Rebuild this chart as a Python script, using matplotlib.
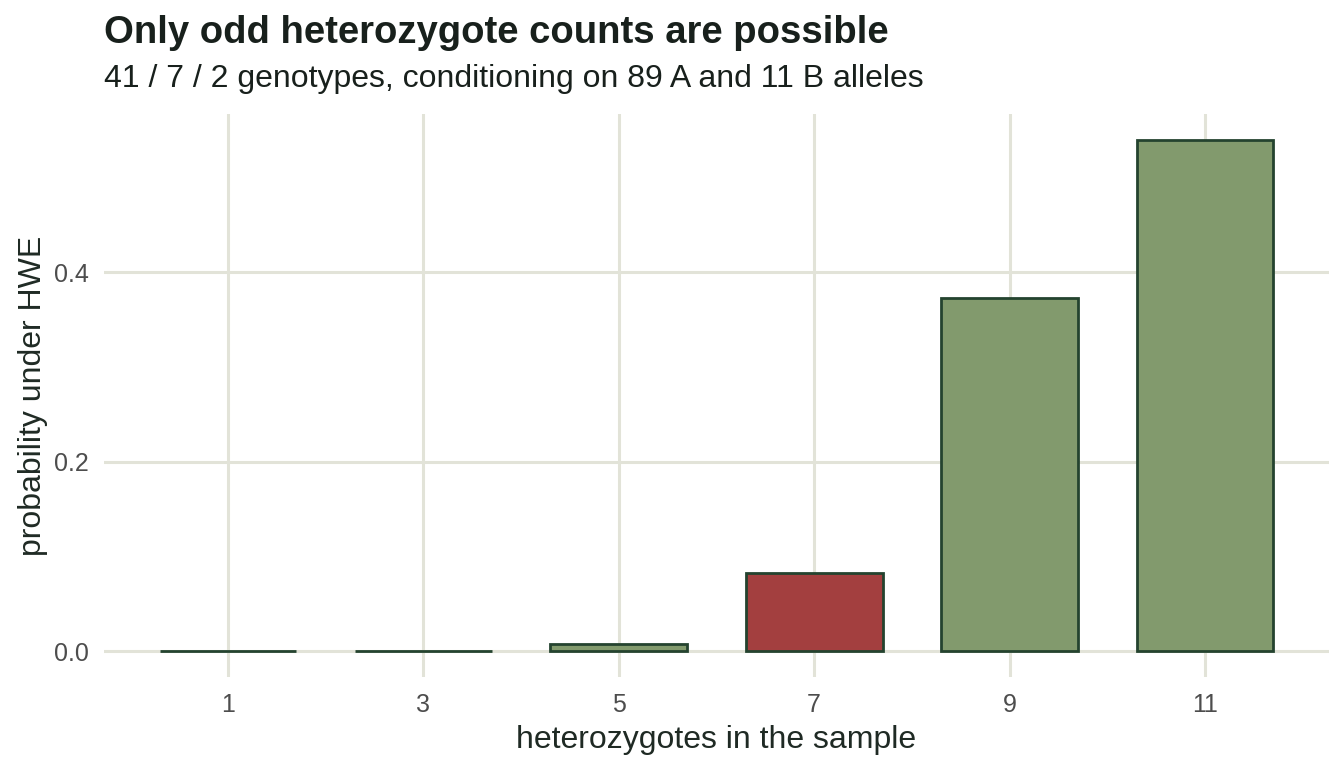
import matplotlib.pyplot as plt

HETS = [1, 3, 5, 7, 9, 11]
PROB = [0.00002, 0.0004, 0.0074, 0.0823, 0.3726, 0.5400]
OBSERVED = 7

TITLE = "Only odd heterozygote counts are possible"
SUBTITLE = "41 / 7 / 2 genotypes, conditioning on 89 A and 11 B alleles"

GREEN = "#829a6d"
RED = "#a33f3f"
EDGE = "#24432f"
GRID = "#e2e3d8"

plt.rcParams['font.family'] = ['Liberation Sans', 'DejaVu Sans']

fig = plt.figure(figsize=(13.44, 7.68), dpi=100)
ax = fig.add_axes([104 / 1344, 1 - 677 / 768, (1329 - 104) / 1344, (677 - 114) / 768])

colors = [RED if h == OBSERVED else GREEN for h in HETS]
ax.bar(HETS, PROB, width=1.4, color=colors, edgecolor=EDGE, linewidth=2, zorder=3)

ax.set_xlim(-0.27, 12.27)
ax.set_ylim(-0.027, 0.567)
ax.set_xticks(HETS)
ax.set_yticks([0.0, 0.2, 0.4])
ax.set_yticklabels(["0.0", "0.2", "0.4"])
ax.grid(True, color=GRID, linewidth=2.2, zorder=0)
ax.set_axisbelow(True)
for s in ax.spines.values():
    s.set_visible(False)
ax.tick_params(length=0, labelsize=18, colors="#4d4d4d")
ax.tick_params(axis="x", pad=11.5)
ax.tick_params(axis="y", pad=11)

ax.set_xlabel("heterozygotes in the sample", fontsize=23, color="#1f2a24", labelpad=6)
ax.set_ylabel("probability under HWE", fontsize=23, color="#1f2a24", labelpad=4)

fig.text(104 / 1344, 1 - 33 / 768, TITLE, fontsize=27.5, fontweight="bold",
         color="#18201c", va="center", ha="left")
fig.text(104 / 1344, 1 - 79 / 768, SUBTITLE, fontsize=23,
         color="#18201c", va="center", ha="left")

fig.savefig("out.png", dpi=100, facecolor="white")
